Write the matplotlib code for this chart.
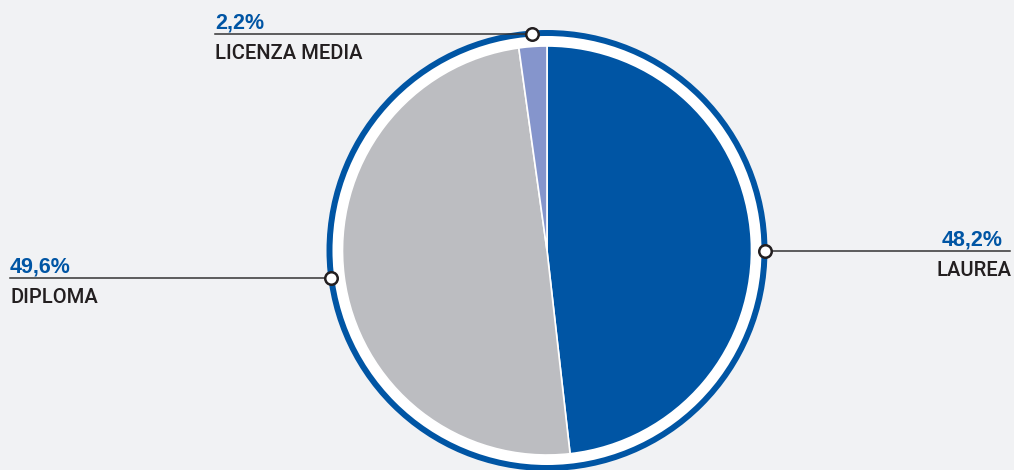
import numpy as np
import matplotlib
matplotlib.use("Agg")
import matplotlib.pyplot as plt
from matplotlib.patches import Circle

# Titolo di studio: quote percentuali
labels = ["LAUREA", "DIPLOMA", "LICENZA MEDIA"]
values = [48.2, 49.6, 2.2]
value_text = ["48,2%", "49,6%", "2,2%"]

colors = ["#0055a4", "#bcbdc1", "#8595cc"]
blue = "#0055a4"
dark = "#231f20"
bg = "#f1f2f4"

W, H = 1014, 470
fig = plt.figure(figsize=(W / 100, H / 100), dpi=100)
fig.patch.set_facecolor(bg)
ax = fig.add_axes([0, 0, 1, 1])
ax.set_facecolor(bg)

cx, cy = 547, H - 250.5
r_pie = 204.5
r_ring = 217.5

# anello esterno bianco con bordo blu
ring = Circle((cx, cy), r_ring, facecolor="white", edgecolor=blue, lw=4.3, zorder=1)
ax.add_patch(ring)

wedges, _ = ax.pie(values, colors=colors, startangle=90, counterclock=False,
                   radius=r_pie, center=(cx, cy),
                   wedgeprops=dict(edgecolor="white", linewidth=1.2))
for w in wedges:
    w.set_zorder(2)

ax.set_xlim(0, W)
ax.set_ylim(0, H)
ax.set_aspect("auto")
ax.axis("off")

# angolo medio di ogni fetta (gradi, antiorario da est)
cum = np.cumsum([0] + values)
mid = 90 - (cum[:-1] + np.array(values) / 2) * 3.6
mid[0] = 0  # etichetta laurea in orizzontale

label_font = ["Roboto", "DejaVu Sans"]
value_font = ["Liberation Sans", "DejaVu Sans"]

# estremità della linea di richiamo: x finale e lato del testo
ends = {"LAUREA": (1010, "right"), "DIPLOMA": (10, "left"), "LICENZA MEDIA": (215, "left")}

for lab, vt, ang in zip(labels, value_text, mid):
    a = np.deg2rad(ang)
    mx = cx + r_ring * np.cos(a)
    my = cy + r_ring * np.sin(a)
    x_end, side = ends[lab]
    ax.plot([mx, x_end], [my, my], color="#333333", lw=1.1, zorder=3)
    ax.plot(mx, my, "o", ms=9, mfc="white", mec=dark, mew=1.8, zorder=4)
    tx = x_end if side == "left" else x_end - 7
    lx = x_end if side == "left" else x_end + 2
    ax.text(tx, my + 5, vt, ha=side, va="baseline", color=blue,
            fontsize=15.5, fontweight="bold", family=value_font)
    ax.text(lx, my - 25, lab, ha=side, va="baseline", color=dark,
            fontsize=14.5, fontweight="medium", family=label_font)

fig.savefig("out.png", dpi=100, facecolor=bg)
